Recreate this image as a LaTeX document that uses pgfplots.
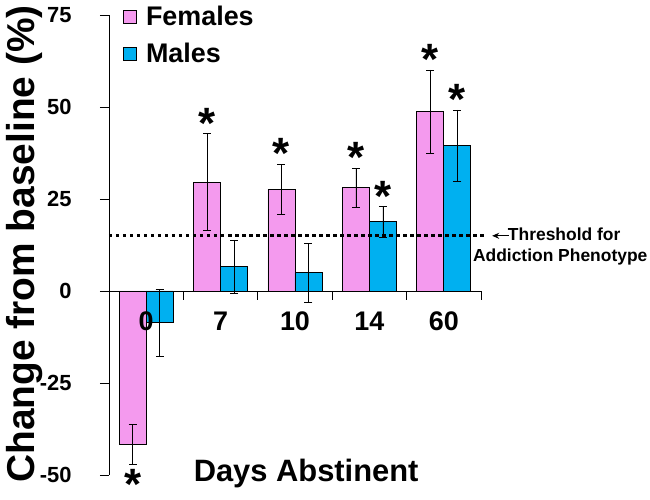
\documentclass[border=0pt]{standalone}
\usepackage{fontspec}
\setmainfont{Liberation Sans}
\usepackage{pgfplots}
\pgfplotsset{compat=1.18}
\usetikzlibrary{arrows.meta}
\definecolor{fem}{RGB}{244,154,238}
\definecolor{mal}{RGB}{0,176,240}

\begin{document}
\begin{tikzpicture}
\begin{axis}[
  scale only axis, width=372bp, height=460bp,
  xmin=-0.5, xmax=4.5, ymin=-50, ymax=75,
  ybar=0pt, bar width=27bp,
  axis on top,
  axis y line*=left, axis x line*=middle,
  hide obscured x ticks=false, hide obscured y ticks=false,
  axis line style={line width=0.8pt},
  ytick={-50,-25,0,25,50,75},
  yticklabels={-50,-25,0,25,50,75},
  yticklabel style={font=\fontsize{22}{24}\selectfont\bfseries, xshift=-25bp},
  xtick={0.5,1.5,2.5,3.5,4.5}, xticklabels={},
  extra x ticks={0,1,2,3,4},
  extra x tick labels={0,7,10,14,60},
  extra x tick style={major tick length=0pt,
    tick label style={font=\fontsize{27}{29}\selectfont\bfseries, yshift=-17bp}},
  tick align=outside, major tick length=9bp,
  tick style={black, line width=0.8pt},
  clip=false,
  legend style={at={(axis cs:-0.31,78)}, anchor=north west, draw=none, fill=none,
    font=\fontsize{27}{29}\selectfont\bfseries, row sep=12bp, inner sep=0pt,
    cells={anchor=west}},
  legend image code/.code={\draw[#1,draw=black,line width=0.6pt] (0bp,-6.5bp) rectangle (13bp,6.5bp);
    \path (20bp,0bp);},
]
\addplot[fill=fem, draw=black, line width=0.8pt, bar shift=-13.5bp,
  error bars/.cd, y dir=both, y explicit,
  error bar style={black, line width=0.6pt},
  error mark options={rotate=90, black, mark size=4bp, line width=0.6pt}]
  coordinates {(0,-41.7) +- (0,5.4) (1,29.6) +- (0,13.2) (2,27.7) +- (0,6.8)
               (3,28.1) +- (0,5.3) (4,48.7) +- (0,11.4)};
\addlegendentry{Females}
\addplot[fill=mal, draw=black, line width=0.8pt, bar shift=13.5bp,
  error bars/.cd, y dir=both, y explicit,
  error bar style={black, line width=0.6pt},
  error mark options={rotate=90, black, mark size=4bp, line width=0.6pt}]
  coordinates {(0,-8.6) +- (0,9.1) (1,6.6) +- (0,7.3) (2,5.0) +- (0,8.0)
               (3,18.8) +- (0,4.1) (4,39.5) +- (0,9.7)};
\addlegendentry{Males}
% threshold
\addplot[sharp plot, black, line width=3bp, dash pattern=on 3.5bp off 3.5bp, forget plot, bar shift=0pt]
  coordinates {(-0.5,15) (4.58,15)};
\draw[black, line width=1.2pt, -{Stealth[length=7bp,width=6bp]}] (axis cs:4.87,15) -- (axis cs:4.65,15);
\node[anchor=base west, inner sep=0pt, font=\fontsize{17.5}{19}\selectfont\bfseries]
  at ([yshift=-5bp]axis cs:4.86,15) {Threshold for};
\node[anchor=base west, inner sep=0pt, font=\fontsize{17.5}{19}\selectfont\bfseries]
  at ([yshift=-26bp]axis cs:4.39,15) {Addiction Phenotype};
% significance stars
\tikzset{star/.style={inner sep=0pt, font=\fontsize{44}{44}\selectfont\bfseries}}
\newcommand{\sig}{\raisebox{0pt}[0.72em][-0.38em]{*}}
\node[star, anchor=south] at ([yshift=-5bp]axis cs:0.8185,42.8) {\sig};
\node[star, anchor=south] at ([yshift=-5bp]axis cs:1.8185,34.5) {\sig};
\node[star, anchor=south] at ([yshift=-5bp]axis cs:2.8185,33.4) {\sig};
\node[star, anchor=south] at ([yshift=-5bp]axis cs:3.1815,22.9) {\sig};
\node[star, anchor=south] at ([yshift=-5bp]axis cs:3.8185,60.1) {\sig};
\node[star, anchor=south] at ([yshift=-5bp]axis cs:4.1815,49.2) {\sig};
\node[star, anchor=north] at ([yshift=-3bp]axis cs:-0.1815,-47.1) {\sig};
% axis titles
\node[anchor=base, inner sep=0pt, font=\fontsize{31}{33}\selectfont\bfseries]
  at ([yshift=-7bp]axis cs:2.15,-50) {Days Abstinent};
\node[rotate=90, anchor=base, inner sep=0pt, font=\fontsize{39}{41}\selectfont\bfseries]
  at ([xshift=-74bp]axis cs:-0.5,12.8) {Change from baseline (\%)};
\coordinate (sw) at (rel axis cs:0,0);
\end{axis}
\pgfresetboundingbox
\path[use as bounding box] (sw) ++(-109bp,-25bp) rectangle ++(650bp,500bp);
\end{tikzpicture}
\end{document}
